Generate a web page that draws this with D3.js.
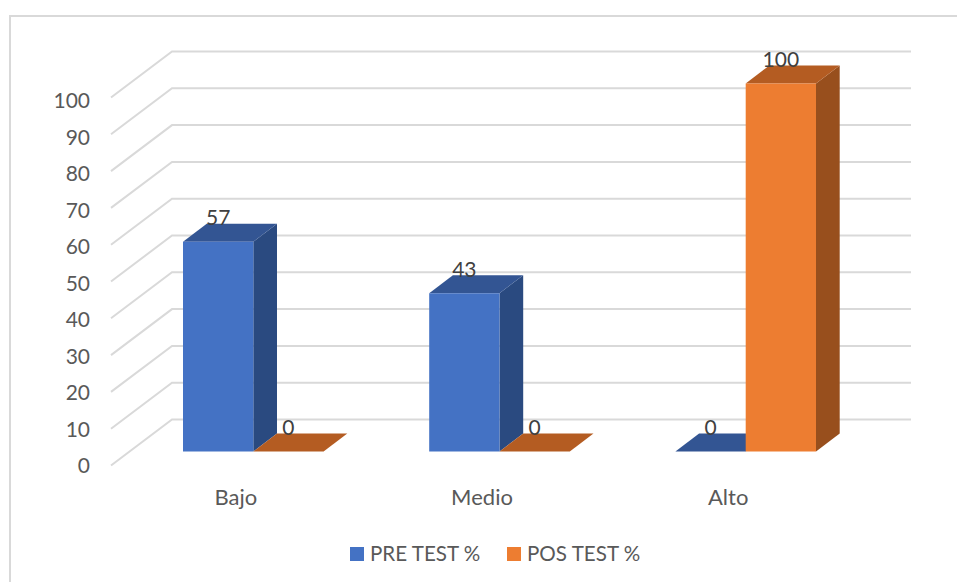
<!DOCTYPE html>
<html lang="en">

<head>
    <meta charset="UTF-8">
    <title>Pre test / Pos test</title>
    <script src="https://d3js.org/d3.v7.min.js"></script>
    <style>
        html, body { margin: 0; background: #fff; }
        svg { display: block; }
        text { font-family: Lato, "Open Sans", sans-serif; }
    </style>
</head>

<body>
    <div id="chart"></div>
    <script>
        // Data
        const categories = ["Bajo", "Medio", "Alto"];
        const seriesNames = ["PRE TEST %", "POS TEST %"];
        const preTest = [57, 43, 0];
        const posTest = [0, 0, 100];
        const yTicks = [0, 10, 20, 30, 40, 50, 60, 70, 80, 90, 100];

        const width = 957;
        const height = 582;

        const svg = d3.select("#chart")
            .append("svg")
            .attr("width", width)
            .attr("height", height)
            .attr("viewBox", `0 0 ${width} ${height}`);

        // Chart frame
        svg.append("rect")
            .attr("x", 10)
            .attr("y", 16)
            .attr("width", 1000)
            .attr("height", 700)
            .attr("fill", "none")
            .attr("stroke", "#d9d9d9")
            .attr("stroke-width", 2);

        // Scales, on the front plane of the bars
        const yScale = d3.scaleLinear().domain([0, 100]).range([451.5, 83.5]);
        const yLabel = d3.scaleLinear().domain([0, 100]).range([473, 108]);
        const xScale = d3.scaleBand().domain(categories).range([130.2, 868.8]);
        const xInner = d3.scaleBand().domain(seriesNames).range([-70.3, 70.3]);
        const color = d3.scaleOrdinal().domain(seriesNames).range(["#4472c4", "#ed7d31"]);
        const topColor = d3.scaleOrdinal().domain(seriesNames).range(["#335593", "#b45c22"]);
        const sideColor = d3.scaleOrdinal().domain(seriesNames).range(["#2a4a80", "#984f1d"]);

        // 3D offsets
        const wall = { dx: 61, dy: -46, offsetY: 14 };   // floor depth of the gridlines
        const depth = { dx: 23.7, dy: -18 };             // depth of a bar

        // Gridlines on the back wall and side wall
        const grid = svg.append("g")
            .attr("fill", "none")
            .attr("stroke", "#d9d9d9")
            .attr("stroke-width", 2);

        grid.selectAll("path")
            .data(yTicks)
            .join("path")
            .attr("d", d => {
                const y = yScale(d) + wall.offsetY;
                return `M111,${y}L${111 + wall.dx},${y + wall.dy}L911,${y + wall.dy}`;
            });

        // Y axis labels
        svg.selectAll(".tick-label")
            .data(yTicks)
            .join("text")
            .attr("class", "tick-label")
            .attr("x", 90)
            .attr("y", d => yLabel(d))
            .attr("text-anchor", "end")
            .attr("fill", "#595959")
            .style("font-size", "21px")
            .text(d => d);

        // Bars
        const bars = seriesNames.flatMap((name, s) => {
            const values = s === 0 ? preTest : posTest;
            return categories.map((cat, i) => ({ name, cat, value: values[i] }));
        });

        svg.selectAll(".bar")
            .data(bars)
            .join("g")
            .attr("class", "bar")
            .each(function (d) {
                const g = d3.select(this);
                const x0 = xScale(d.cat) + xScale.bandwidth() / 2 + xInner(d.name);
                const x1 = x0 + xInner.bandwidth();
                const top = yScale(d.value);
                const bottom = yScale(0);

                // side face
                g.append("path")
                    .attr("fill", sideColor(d.name))
                    .attr("d", `M${x1},${top}L${x1 + depth.dx},${top + depth.dy}L${x1 + depth.dx},${bottom + depth.dy}L${x1},${bottom}Z`);

                // top face
                g.append("path")
                    .attr("fill", topColor(d.name))
                    .attr("d", `M${x0},${top}L${x0 + depth.dx},${top + depth.dy}L${x1 + depth.dx},${top + depth.dy}L${x1},${top}Z`);

                // front face
                g.append("rect")
                    .attr("x", x0)
                    .attr("y", top)
                    .attr("width", x1 - x0)
                    .attr("height", bottom - top)
                    .attr("fill", color(d.name));
            });

        // Value labels
        svg.selectAll(".value-label")
            .data(bars)
            .join("text")
            .attr("class", "value-label")
            .attr("x", d => xScale(d.cat) + xScale.bandwidth() / 2 + xInner(d.name) + xInner.bandwidth() / 2)
            .attr("y", d => yScale(d.value) - 16.5)
            .attr("text-anchor", "middle")
            .attr("fill", "#404040")
            .style("font-size", "21px")
            .text(d => d.value);

        // Category labels
        svg.selectAll(".cat-label")
            .data(categories)
            .join("text")
            .attr("class", "cat-label")
            .attr("x", d => xScale(d) + xScale.bandwidth() / 2 - 17.5)
            .attr("y", 505)
            .attr("text-anchor", "middle")
            .attr("fill", "#595959")
            .style("font-size", "22px")
            .text(d => d);

        // Legend
        const legendX = d3.scaleOrdinal().domain(seriesNames).range([350, 507]);

        const legend = svg.selectAll(".legend")
            .data(seriesNames)
            .join("g")
            .attr("class", "legend")
            .attr("transform", d => `translate(${legendX(d)},547)`);

        legend.append("rect")
            .attr("width", 14)
            .attr("height", 14)
            .attr("fill", d => color(d));

        legend.append("text")
            .attr("x", 20)
            .attr("y", 14)
            .attr("fill", "#595959")
            .style("font-size", "20.6px")
            .text(d => d);
    </script>
</body>

</html>
